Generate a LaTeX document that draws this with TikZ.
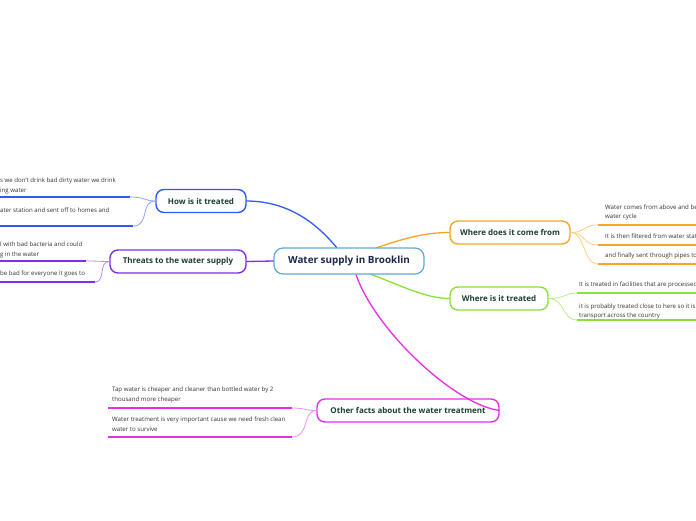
\documentclass[tikz,border=0pt]{standalone}
\usepackage{fontspec}
\setmainfont{Open Sans}
\usetikzlibrary{calc}
\definecolor{cblue}{HTML}{2F5BF5}
\definecolor{cpurple}{HTML}{7B2FF0}
\definecolor{corange}{HTML}{F5A623}
\definecolor{cgreen}{HTML}{8AE234}
\definecolor{cmag}{HTML}{E62EE6}
\definecolor{ccentral}{HTML}{5FA8D8}
\definecolor{ttl}{HTML}{1D3F33}
\definecolor{ctl}{HTML}{1B2A4A}
\definecolor{txt}{HTML}{333333}
\tikzset{
  branch/.style={draw=#1, line width=1.4pt, rounded corners=8pt, fill=white, inner sep=0pt,
    font=\fontsize{8}{9}\selectfont\bfseries, text=ttl, minimum height=23pt},
  central/.style={draw=ccentral, line width=1.2pt, rounded corners=9pt, fill=white, inner sep=0pt,
    font=\fontsize{9.9}{11}\selectfont\bfseries, text=ctl, minimum height=26pt, minimum width=150pt},
  leaf/.style={inner sep=0pt, anchor=west, align=left, text=txt, font=\fontsize{6.1}{9.5}\selectfont},
  uline/.style={draw=#1, line width=1.4pt},
  thin/.style={draw=#1, line width=0.8pt},
  main/.style={draw=#1, line width=1.3pt}
}
\begin{document}
\begin{tikzpicture}[x=1pt,y=-1pt]
\useasboundingbox (0,0) rectangle (696,520);
\clip (0,0) rectangle (696,520);
\fill[white] (0,0) rectangle (696,520);

% main connectors (drawn first, under nodes)
\coordinate (cc) at (349,261);
\coordinate (howr) at (246,201);
\coordinate (comel) at (450,232.5);
\coordinate (treatl) at (450,298.5);
\coordinate (threr) at (246,261.5);

\draw[main=cblue] ($(cc)+(-12,-13)$) .. controls (318,225) and (290,201) .. (howr);
\draw[main=cpurple] ($(cc)+(-75,0)$) -- (threr);
\draw[main=corange] ($(cc)+(27,-13)$) .. controls (405,238) and (425,232.5) .. (comel);
\draw[main=cgreen] ($(cc)+(21,13)$) .. controls (400,285) and (425,298.5) .. (treatl);

% nodes
\node[central] (c) at (cc) {Water supply in Brooklin};
\node[branch=cblue, minimum width=90pt] (how) at (201,201) {How is it treated};
\node[branch=cpurple, minimum width=136pt] (thr) at (178,261.5) {Threats to the water supply};
\node[branch=corange, minimum width=120pt] (come) at (510,232.5) {Where does it come from};
\node[branch=cgreen, minimum width=98pt] (treat) at (499,298.5) {Where is it treated};
\node[branch=cmag, minimum width=182pt] (other) at (408,410.5) {Other facts about the water treatment};

% magenta connector drawn over its box, ending at the box's right end
\draw[main=cmag] ($(c.south)+(7,0)$) .. controls (375,330) and (455,405) .. (other.east);

% How is it treated children
\coordinate (h1a) at (0,197); \coordinate (h1b) at (130,197);
\coordinate (h2a) at (0,226); \coordinate (h2b) at (133,226);
\draw[uline=cblue] (h1a) -- (h1b);
\draw[uline=cblue] (h2a) -- (h2b);
\draw[thin=cblue!55] (h1b) .. controls (145,197) and (145,201) .. (how.west);
\draw[thin=cblue!55] (h2b) .. controls (150,226) and (140,201) .. (how.west);
\node[leaf] (h1t) at (0,186) {s we don't drink bad dirty water we drink\\ing water};
\node[leaf] (h2t) at (0,210) {ater station and sent off to homes and};

% Threats children
\coordinate (t1a) at (0,261); \coordinate (t1b) at (86,261);
\coordinate (t2a) at (0,282); \coordinate (t2b) at (95,282);
\draw[uline=cpurple] (t1a) -- (t1b);
\draw[uline=cpurple] (t2a) -- (t2b);
\draw[thin=cpurple!55] (t1b) .. controls (98,261) and (100,261.5) .. (thr.west);
\draw[thin=cpurple!55] (t2b) .. controls (106,282) and (98,261.5) .. (thr.west);
\node[leaf] (t1t) at (0,250) {l with bad bacteria and could\\g in the water};
\node[leaf] (t2t) at (0,274) {be bad for everyone it goes to};

% Where does it come from children
\coordinate (w1a) at (598,225); \coordinate (w1b) at (696,225);
\coordinate (w2a) at (598,245); \coordinate (w2b) at (696,245);
\coordinate (w3a) at (598,264); \coordinate (w3b) at (696,264);
\draw[uline=corange] (w1a) -- (w1b);
\draw[uline=corange] (w2a) -- (w2b);
\draw[uline=corange] (w3a) -- (w3b);
\draw[thin=corange!55] (come.east) .. controls (585,232.5) and (583,225) .. (w1a);
\draw[thin=corange!55] (come.east) .. controls (585,232.5) and (583,245) .. (w2a);
\draw[thin=corange!55] (come.east) .. controls (585,232.5) and (583,264) .. (w3a);
\node[leaf] (w1t) at (605,212.5) {Water comes from above and be\\water cycle};
\node[leaf] (w2t) at (605,236.5) {It is then filtered from water stati};
\node[leaf] (w3t) at (605,256) {and finally sent through pipes to};

% Where is it treated children
\coordinate (r1a) at (577,293); \coordinate (r1b) at (696,293);
\coordinate (r2a) at (577,320); \coordinate (r2b) at (696,320);
\draw[uline=cgreen] (r1a) -- (r1b);
\draw[uline=cgreen] (r2a) -- (r2b);
\draw[thin=cgreen!60] (treat.east) .. controls (565,298.5) and (565,293) .. (r1a);
\draw[thin=cgreen!60] (treat.east) .. controls (565,298.5) and (562,320) .. (r2a);
\node[leaf] (r1t) at (579,285) {It is treated in facilities that are processed};
\node[leaf] (r2t) at (579,311.5) {it is probably treated close to here so it isn\\transport across the country};

% Other facts children
\coordinate (o1a) at (108,408); \coordinate (o1b) at (292,408);
\coordinate (o2a) at (108,437); \coordinate (o2b) at (292,437);
\draw[uline=cmag] (o1a) -- (o1b);
\draw[uline=cmag] (o2a) -- (o2b);
\draw[thin=cmag!55] (o1b) .. controls (305,408) and (305,410.5) .. (other.west);
\draw[thin=cmag!55] (o2b) .. controls (310,437) and (302,410.5) .. (other.west);
\node[leaf] (o1t) at (112,395) {Tap water is cheaper and cleaner than bottled water by 2\\thousand more cheaper};
\node[leaf] (o2t) at (112,424) {Water treatment is very important cause we need fresh clean\\water to survive};
\end{tikzpicture}
\end{document}
